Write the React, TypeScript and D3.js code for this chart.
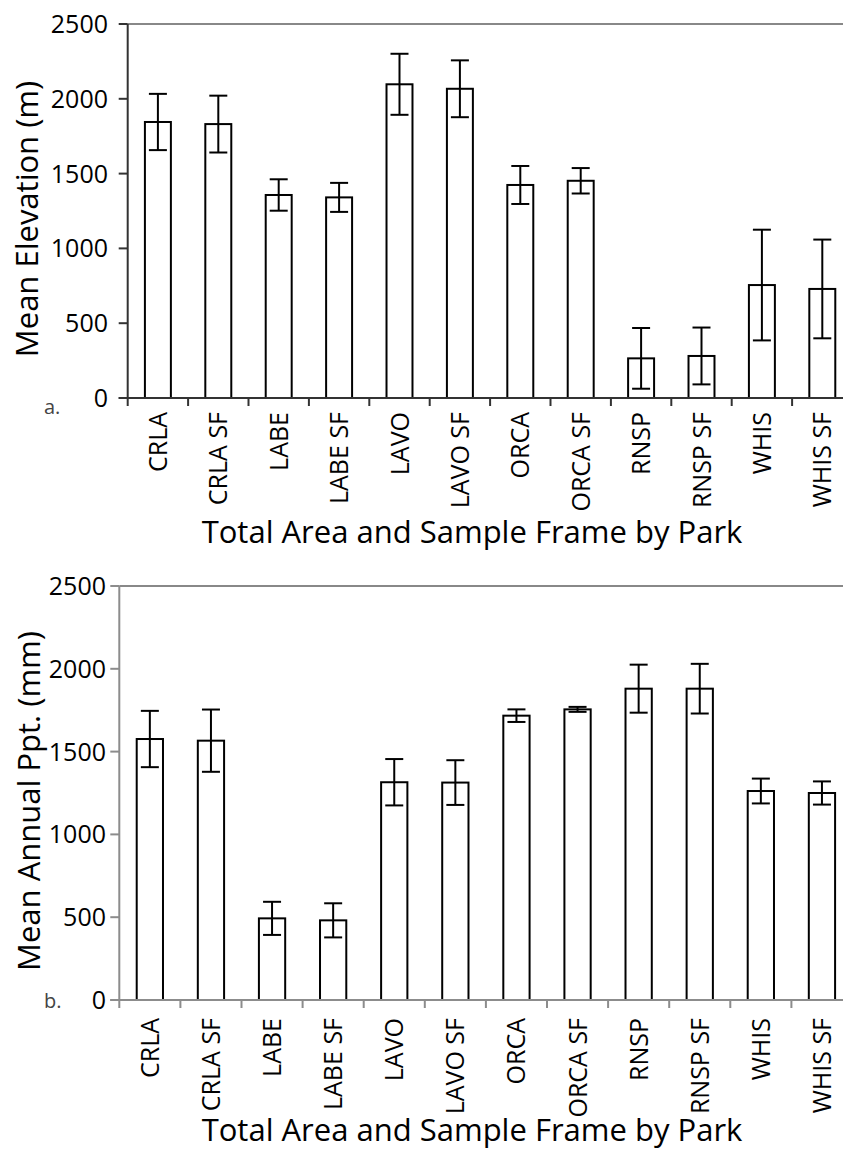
import React from "react";
import * as d3 from "d3";

const categories = ["CRLA", "CRLA SF", "LABE", "LABE SF", "LAVO", "LAVO SF", "ORCA", "ORCA SF", "RNSP", "RNSP SF", "WHIS", "WHIS SF"];
const elevationMean = [1845, 1831, 1357, 1341, 2097, 2067, 1424, 1452, 265, 281, 755, 729];
const elevationErr = [188, 190, 105, 97, 204, 190, 127, 85, 203, 190, 370, 330];
const pptMean = [1576, 1566, 493, 481, 1315, 1313, 1717, 1755, 1880, 1880, 1262, 1250];
const pptErr = [170, 188, 100, 103, 140, 135, 38, 15, 145, 150, 75, 70];
const yTicks = [0, 500, 1000, 1500, 2000, 2500];

const FONT = "'Open Sans', 'Noto Sans', sans-serif";

type PanelProps = {
  means: number[];
  errs: number[];
  x0: number;
  band: number;
  yTop: number;
  yBottom: number;
  axisColor: string;
  yTitle: string;
  yTitleX: number;
  tag: string;
  tagY: number;
  labelOffset: number;
  xTitleY: number;
  labelRight: number;
};

function Panel(p: PanelProps) {
  const x = d3.scaleBand<string>().domain(categories).range([p.x0, p.x0 + categories.length * p.band]).paddingInner(0).paddingOuter(0);
  const y = d3.scaleLinear().domain([0, 2500]).range([p.yBottom, p.yTop]);
  const bw = x.bandwidth() * 0.43;
  const cap = 18;
  const xEnd = p.x0 + categories.length * p.band;
  return (
    <g>
      {categories.map((c, i) => {
        const cx = (x(c) as number) + x.bandwidth() / 2;
        return (
          <rect key={"b" + c} x={cx - bw / 2} y={y(p.means[i])} width={bw} height={y(0) - y(p.means[i])} fill="#fff" stroke="#000" strokeWidth={2} />
        );
      })}
      {categories.map((c, i) => {
        const cx = (x(c) as number) + x.bandwidth() / 2;
        const hi = y(p.means[i] + p.errs[i]);
        const lo = y(p.means[i] - p.errs[i]);
        return (
          <g key={"e" + c} stroke="#000" strokeWidth={2}>
            <line x1={cx} x2={cx} y1={hi} y2={lo} />
            <line x1={cx - cap / 2} x2={cx + cap / 2} y1={hi} y2={hi} />
            <line x1={cx - cap / 2} x2={cx + cap / 2} y1={lo} y2={lo} />
          </g>
        );
      })}
      <line x1={p.x0} x2={xEnd} y1={y(2500)} y2={y(2500)} stroke="#888" strokeWidth={2} />
      <line x1={p.x0} x2={p.x0} y1={y(2500)} y2={y(0) + 8} stroke={p.axisColor} strokeWidth={2} />
      {yTicks.map((t) => (
        <g key={"t" + t}>
          <line x1={p.x0 - 9} x2={p.x0} y1={y(t)} y2={y(t)} stroke={p.axisColor} strokeWidth={2} />
          <text x={p.labelRight} y={y(t)} dy="0.36em" textAnchor="end" fontSize={25} fontFamily={FONT} fill="#000">{t}</text>
        </g>
      ))}
      <line x1={p.x0 - 9} x2={xEnd} y1={y(0)} y2={y(0)} stroke={p.axisColor} strokeWidth={2} />
      {categories.map((c, i) => (
        <line key={"xt" + c} x1={p.x0 + (i + 1) * p.band} x2={p.x0 + (i + 1) * p.band} y1={y(0)} y2={y(0) + 8} stroke={p.axisColor} strokeWidth={2} />
      ))}
      {categories.map((c) => {
        const cx = (x(c) as number) + x.bandwidth() / 2;
        return (
          <text key={"l" + c} transform={`translate(${cx},${y(0) + p.labelOffset}) rotate(-90)`} textAnchor="end" dy="0.36em" fontSize={25} fontFamily={FONT} fill="#000">{c}</text>
        );
      })}
      <text transform={`translate(${p.yTitleX},${(p.yTop + p.yBottom) / 2 + 8}) rotate(-90)`} textAnchor="middle" fontSize={31} fontFamily={FONT} fill="#000">{p.yTitle}</text>
      <text x={472} y={p.xTitleY} textAnchor="middle" fontSize={31} fontFamily={FONT} fill="#000">Total Area and Sample Frame by Park</text>
      <text x={44} y={p.tagY} fontSize={20} fontFamily={FONT} fill="#444">{p.tag}</text>
    </g>
  );
}

export default function App() {
  return (
    <svg width={843} height={1149} style={{ position: "absolute", left: 0, top: 0, background: "#fff" }}>
      <rect x={0} y={0} width={843} height={1149} fill="#fff" />
      <Panel means={elevationMean} errs={elevationErr} x0={127.7} band={60.4} yTop={24} yBottom={398} axisColor="#333" yTitle="Mean Elevation (m)" yTitleX={38} tag="a." tagY={414} labelOffset={14} xTitleY={543} labelRight={108} />
      <Panel means={pptMean} errs={pptErr} x0={119.3} band={61.1} yTop={586} yBottom={1000} axisColor="#8c8c8c" yTitle="Mean Annual Ppt. (mm)" yTitleX={40} tag="b." tagY={1008} labelOffset={18} xTitleY={1141} labelRight={106} />
    </svg>
  );
}
